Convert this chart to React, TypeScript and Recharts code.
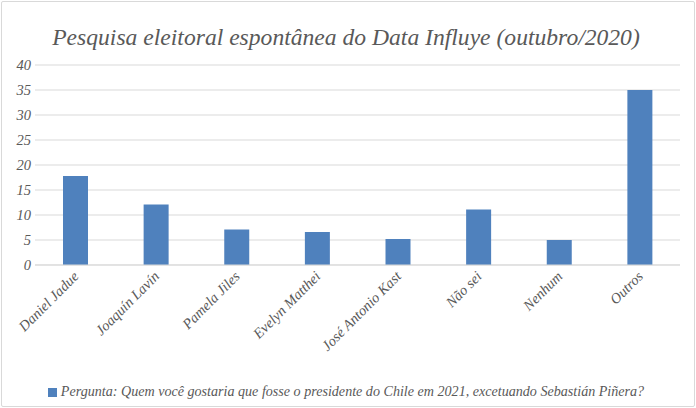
import { BarChart, Bar, XAxis, YAxis, CartesianGrid, Legend } from 'recharts';

const candidates = [
  'Daniel Jadue',
  'Joaquín Lavín',
  'Pamela Jiles',
  'Evelyn Matthei',
  'José Antonio Kast',
  'Não sei',
  'Nenhum',
  'Outros',
];
const votes = [17.8, 12.1, 7.1, 6.6, 5.2, 11.1, 5.0, 35];
const yTicks = [0, 5, 10, 15, 20, 25, 30, 35, 40];
const seriesName =
  'Pergunta: Quem você gostaria que fosse o presidente do Chile em 2021, excetuando Sebastián Piñera?';

const data = candidates.map((name, i) => ({ name, value: votes[i] }));

const FONT = '"Liberation Serif", serif';

function SlantedTick(props: any) {
  const { x, y, payload } = props;
  return (
    <text
      x={x}
      y={y}
      dy={6}
      textAnchor="end"
      transform={`rotate(-45, ${x}, ${y})`}
      fill="#595959"
      fontFamily={FONT}
      fontStyle="italic"
      fontSize={14.5}
    >
      {payload.value}
    </text>
  );
}

export default function App() {
  return (
    <div
      style={{
        position: 'fixed',
        left: 0,
        top: 0,
        width: 696,
        height: 408,
        background: '#fff',
        fontFamily: FONT,
      }}
    >
      <div
        style={{
          position: 'absolute',
          left: 1,
          top: 1,
          width: 692,
          height: 404,
          border: '1px solid #d9d9d9',
          borderRadius: 2,
        }}
      />
      <div
        style={{
          position: 'absolute',
          left: 0,
          top: 24,
          width: 692,
          textAlign: 'center',
          fontSize: 23.6,
          fontStyle: 'italic',
          color: '#595959',
        }}
      >
        Pesquisa eleitoral espontânea do Data Influye (outubro/2020)
      </div>
      <BarChart
        width={696}
        height={408}
        data={data}
        margin={{ top: 65, right: 16, bottom: 0, left: 8 }}
      >
        <CartesianGrid vertical={false} stroke="#d9d9d9" />
        <XAxis
          dataKey="name"
          interval={0}
          height={118}
          tick={<SlantedTick />}
          tickLine={false}
          axisLine={{ stroke: '#d9d9d9' }}
        />
        <YAxis
          width={27}
          domain={[0, 40]}
          ticks={yTicks}
          axisLine={false}
          tickLine={false}
          tickSize={4}
          tickMargin={0}
          tick={{ fill: '#595959', fontFamily: FONT, fontStyle: 'italic', fontSize: 14.5 }}
        />
        <Legend
          verticalAlign="bottom"
          iconType="square"
          iconSize={9}
          wrapperStyle={{
            fontStyle: 'italic',
            fontSize: 14.1,
            color: '#595959',
            paddingBottom: 8,
            paddingLeft: 7,
          }}
          formatter={(v: string) => <span style={{ color: '#595959' }}>{v}</span>}
        />
        <Bar dataKey="value" name={seriesName} fill="#4f81bd" barSize={25} isAnimationActive={false} />
      </BarChart>
    </div>
  );
}
